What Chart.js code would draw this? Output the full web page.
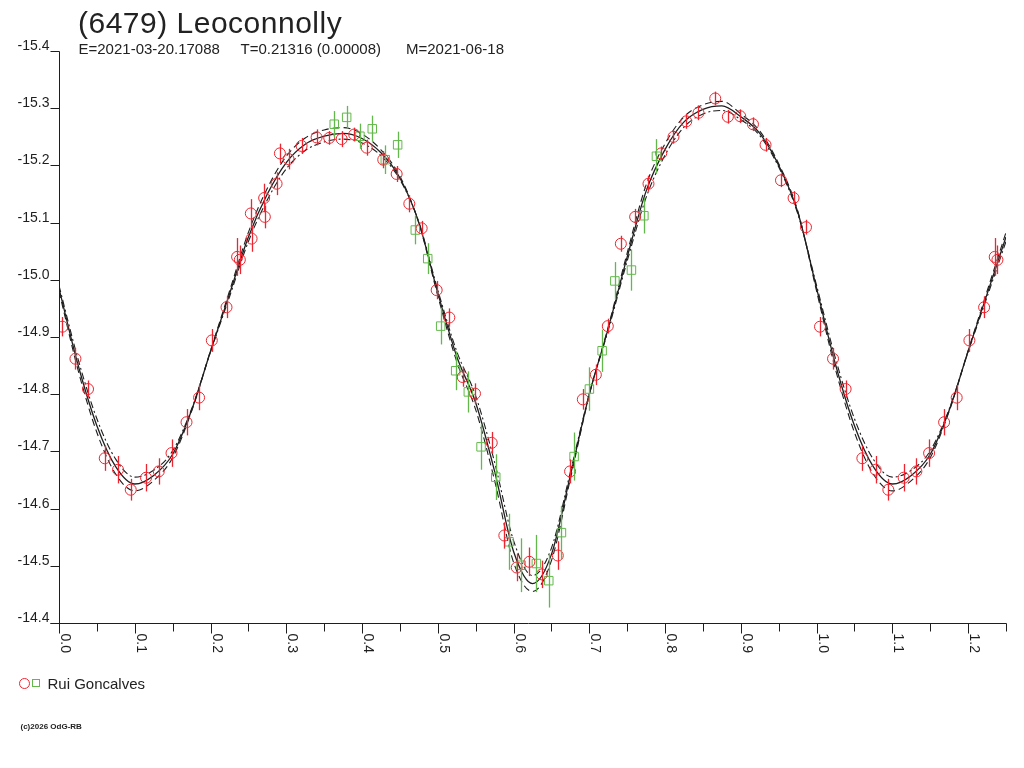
<!DOCTYPE html>
<html>
<head>
<meta charset="utf-8">
<title>(6479) Leoconnolly</title>
<script src="https://cdn.jsdelivr.net/npm/chart.js@4.4.1/dist/chart.umd.min.js"></script>
<style>
  html, body { margin: 0; padding: 0; background: #fff; }
  #lc { display: block; }
</style>
</head>
<body>
<canvas id="lc" width="1024" height="768"></canvas>
<script>
// Rui Goncalves, red circles (phase, reduced mag, error)
const phaseRed = [0.0045,0.0217,0.0383,0.0604,0.0779,0.0947,0.1149,0.1317,0.1485,0.1683,
  0.1849,0.2017,0.2211,0.2351,0.2387,0.2532,0.2542,0.2708,0.2717,0.2872,
  0.2916,0.3030,0.3202,0.3400,0.3567,0.3731,0.3897,0.4061,0.4280,0.4457,
  0.4624,0.4787,0.4985,0.5152,0.5329,0.5491,0.5712,0.5878,0.6042,0.6209,
  0.6373,0.6584,0.6746,0.6914,0.7086,0.7244,0.7416,0.7605,0.7781,0.7949,
  0.8111,0.8279,0.8441,0.8662,0.8829,0.8992,0.9160,0.9326,0.9530,0.9696,0.9860];
const magRed = [-14.918,-14.862,-14.809,-14.688,-14.668,-14.633,-14.654,-14.665,-14.697,-14.751,
  -14.794,-14.894,-14.952,-15.040,-15.035,-15.116,-15.072,-15.143,-15.110,-15.168,
  -15.221,-15.211,-15.234,-15.249,-15.248,-15.246,-15.254,-15.231,-15.210,-15.185,
  -15.133,-15.090,-14.982,-14.934,-14.830,-14.801,-14.715,-14.553,-14.497,-14.507,
  -14.485,-14.518,-14.665,-14.791,-14.834,-14.919,-15.063,-15.110,-15.168,-15.221,
  -15.250,-15.277,-15.292,-15.317,-15.285,-15.286,-15.272,-15.236,-15.174,-15.143,-15.092];
const errRed = [0.017,0.019,0.015,0.022,0.024,0.019,0.024,0.023,0.024,0.023,
  0.022,0.020,0.019,0.033,0.025,0.025,0.023,0.025,0.020,0.020,
  0.017,0.018,0.014,0.014,0.012,0.014,0.012,0.014,0.015,0.014,
  0.015,0.013,0.016,0.016,0.017,0.018,0.019,0.023,0.024,0.025,
  0.024,0.025,0.021,0.018,0.018,0.013,0.014,0.014,0.014,0.012,
  0.012,0.013,0.013,0.012,0.012,0.012,0.012,0.012,0.012,0.012,0.013];

// second session, green squares
const phaseGreen = [0.3633,0.3797,0.3972,0.4135,0.4307,0.4470,0.4703,0.4867,0.5038,0.5236,
  0.5403,0.5571,0.5765,0.5940,0.6099,0.6301,0.6465,0.6632,0.6799,0.7001,
  0.7169,0.7337,0.7556,0.7720,0.7886];
const magGreen = [-15.272,-15.284,-15.251,-15.264,-15.210,-15.236,-15.087,-15.037,-14.919,-14.841,
  -14.804,-14.708,-14.655,-14.542,-14.501,-14.504,-14.474,-14.558,-14.691,-14.809,
  -14.876,-14.998,-15.017,-15.112,-15.216];
const errGreen = [0.023,0.020,0.022,0.023,0.025,0.023,0.025,0.027,0.032,0.034,
  0.036,0.040,0.040,0.049,0.047,0.050,0.047,0.047,0.042,0.038,
  0.037,0.033,0.036,0.031,0.030];

// fit curves read every 0.025 in phase, 0.0 .. 1.0
const fitStep = 0.025;
const fitMag = [-14.985,-14.852,-14.745,-14.673,-14.643,-14.658,-14.695,-14.772,-14.875,-14.975,
  -15.075,-15.150,-15.205,-15.237,-15.251,-15.256,-15.247,-15.222,-15.178,-15.100,
  -14.977,-14.866,-14.785,-14.665,-14.525,-14.469,-14.520,-14.658,-14.800,-14.915,
  -15.040,-15.155,-15.228,-15.276,-15.298,-15.304,-15.285,-15.256,-15.200,-15.119,-14.985];
const fitMagHi = [-14.980,-14.843,-14.733,-14.660,-14.631,-14.649,-14.689,-14.770,-14.876,-14.980,
  -15.083,-15.160,-15.216,-15.248,-15.262,-15.266,-15.255,-15.227,-15.181,-15.099,
  -14.972,-14.857,-14.773,-14.649,-14.506,-14.455,-14.509,-14.652,-14.799,-14.918,
  -15.047,-15.166,-15.238,-15.285,-15.306,-15.312,-15.290,-15.260,-15.203,-15.121,-14.980];
const fitMagLo = [-14.990,-14.862,-14.757,-14.686,-14.655,-14.667,-14.701,-14.774,-14.874,-14.970,
  -15.067,-15.140,-15.194,-15.226,-15.241,-15.246,-15.239,-15.217,-15.175,-15.101,
  -14.982,-14.875,-14.797,-14.681,-14.544,-14.483,-14.531,-14.664,-14.801,-14.912,
  -15.033,-15.144,-15.218,-15.267,-15.290,-15.296,-15.280,-15.252,-15.197,-15.116,-14.990];

// axes
const xMin = 0, xMax = 1.25;
const yMin = -15.4, yMax = -14.4;
const xMinorTicks = [0.05,0.15,0.25,0.35,0.45,0.55,0.65,0.75,0.85,0.95,1.05,1.15,1.25];
const xMajorTicks = [0,0.1,0.2,0.3,0.4,0.5,0.6,0.7,0.8,0.9,1.0,1.1,1.2];
const xTickLabels = ['0.0','0.1','0.2','0.3','0.4','0.5','0.6','0.7','0.8','0.9','1.0','1.1','1.2'];
const yTicks = [-15.4,-15.3,-15.2,-15.1,-15.0,-14.9,-14.8,-14.7,-14.6,-14.5,-14.4];
const yTickLabels = ['-15.4','-15.3','-15.2','-15.1','-15.0','-14.9','-14.8','-14.7','-14.6','-14.5','-14.4'];

const title = '(6479) Leoconnolly';
const subTitle = ['E=2021-03-20.17088', 'T=0.21316 (0.00008)', 'M=2021-06-18'];
const observer = 'Rui Goncalves';
const credit = '(c)2026 OdG-RB';

const RED = '#ec2630';
const GREEN = '#62b84a';
const INK = '#1e1e1e';
const FONT = '"Liberation Sans", Arial, sans-serif';

// the plot repeats the first part of the cycle past phase 1.0
function toPoints(ph, mg, er) {
  const pts = [];
  for (let i = 0; i < ph.length; i++) {
    pts.push({x: ph[i], y: mg[i], e: er[i]});
    if (ph[i] + 1 <= xMax) pts.push({x: ph[i] + 1, y: mg[i], e: er[i]});
  }
  return pts;
}
function toCurve(mags) {
  const pts = mags.map((m, i) => ({x: i * fitStep, y: m}));
  for (let i = 1; i * fitStep <= xMax - 1 + 1e-9; i++) pts.push({x: 1 + i * fitStep, y: mags[i]});
  return pts;
}

const redPts = toPoints(phaseRed, magRed, errRed);
const greenPts = toPoints(phaseGreen, magGreen, errGreen);

const errorBars = {
  id: 'errorBars',
  afterDatasetsDraw(chart) {
    const {ctx, scales: {x, y}} = chart;
    ctx.save();
    ctx.lineWidth = 1.3;
    [[greenPts, GREEN], [redPts, RED]].forEach(([pts, col]) => {
      ctx.strokeStyle = col;
      pts.forEach(p => {
        const px = Math.round(x.getPixelForValue(p.x)) + 0.5;
        ctx.beginPath();
        ctx.moveTo(px, y.getPixelForValue(p.y - p.e));
        ctx.lineTo(px, y.getPixelForValue(p.y + p.e));
        ctx.stroke();
      });
    });
    ctx.restore();
  }
};

const frame = {
  id: 'frame',
  afterDraw(chart) {
    const {ctx, scales: {x, y}} = chart;
    const x0 = Math.round(x.getPixelForValue(xMin)) + 0.5;
    const x1 = Math.round(x.getPixelForValue(xMax)) + 0.5;
    const yTop = Math.round(y.getPixelForValue(yMin)) + 0.5;
    const yBot = Math.round(y.getPixelForValue(yMax)) + 0.5;
    ctx.save();
    ctx.strokeStyle = INK;
    ctx.fillStyle = INK;
    ctx.lineWidth = 1;

    // axes
    ctx.beginPath();
    ctx.moveTo(x0, yTop); ctx.lineTo(x0, yBot);
    ctx.moveTo(x0 - 9, yBot); ctx.lineTo(x1, yBot);
    ctx.stroke();

    // y ticks, label sits above its tick
    ctx.font = '14px ' + FONT;
    ctx.textAlign = 'right';
    ctx.textBaseline = 'alphabetic';
    yTicks.forEach((v, i) => {
      const py = Math.round(y.getPixelForValue(v)) + 0.5;
      ctx.beginPath(); ctx.moveTo(x0 - 9, py); ctx.lineTo(x0, py); ctx.stroke();
      ctx.fillText(yTickLabels[i], x0 - 10, py - 2);
    });

    // x ticks
    xMinorTicks.forEach(v => {
      const px = Math.round(x.getPixelForValue(v)) + 0.5;
      ctx.beginPath(); ctx.moveTo(px, yBot); ctx.lineTo(px, yBot + 8); ctx.stroke();
    });
    ctx.textAlign = 'left';
    xMajorTicks.forEach((v, i) => {
      const px = Math.round(x.getPixelForValue(v)) + 0.5;
      ctx.beginPath(); ctx.moveTo(px, yBot); ctx.lineTo(px, yBot + 10); ctx.stroke();
      ctx.save();
      ctx.translate(px + 1.5, yBot + 10);
      ctx.rotate(Math.PI / 2);
      ctx.fillText(xTickLabels[i], 0, 0);
      ctx.restore();
    });

    // title block
    ctx.fillStyle = '#222';
    ctx.font = '30px ' + FONT;
    ctx.letterSpacing = '0.5px';
    ctx.fillText(title, 78, 33);
    ctx.letterSpacing = '0px';
    ctx.font = '15px ' + FONT;
    ctx.fillText(subTitle[0], 78.5, 54);
    ctx.fillText(subTitle[1], 240.5, 54);
    ctx.fillText(subTitle[2], 406, 54);

    // legend
    ctx.lineWidth = 1;
    ctx.strokeStyle = RED;
    ctx.beginPath(); ctx.arc(24.5, 683.5, 5, 0, Math.PI * 2); ctx.stroke();
    ctx.strokeStyle = GREEN;
    ctx.strokeRect(32.5, 679.5, 7, 7);
    ctx.fillStyle = '#222';
    ctx.font = '15px ' + FONT;
    ctx.fillText(observer, 47.5, 688.5);

    ctx.font = 'bold 8px ' + FONT;
    ctx.fillText(credit, 20.5, 728.5);
    ctx.restore();
  }
};

new Chart(document.getElementById('lc'), {
  type: 'scatter',
  data: {
    datasets: [
      {
        label: observer,
        data: redPts,
        order: 0,
        pointStyle: 'circle',
        pointRadius: 5.5,
        borderColor: RED,
        backgroundColor: 'rgba(0,0,0,0)',
        borderWidth: 1
      },
      {
        label: observer + ' (2)',
        data: greenPts,
        order: 1,
        pointStyle: 'rect',
        pointRadius: 6,
        borderColor: GREEN,
        backgroundColor: 'rgba(0,0,0,0)',
        borderWidth: 1
      },
      {
        label: 'fit',
        data: toCurve(fitMag),
        order: 2,
        showLine: true,
        pointRadius: 0,
        borderColor: INK,
        borderWidth: 1.3,
        cubicInterpolationMode: 'monotone'
      },
      {
        label: 'fit +',
        data: toCurve(fitMagHi),
        order: 3,
        showLine: true,
        pointRadius: 0,
        borderColor: INK,
        borderWidth: 1.1,
        borderDash: [7, 4],
        cubicInterpolationMode: 'monotone'
      },
      {
        label: 'fit -',
        data: toCurve(fitMagLo),
        order: 4,
        showLine: true,
        pointRadius: 0,
        borderColor: INK,
        borderWidth: 1.1,
        borderDash: [7, 3, 2, 3],
        cubicInterpolationMode: 'monotone'
      }
    ]
  },
  options: {
    responsive: false,
    animation: false,
    devicePixelRatio: 1,
    layout: { padding: { left: 59, top: 51, right: 18, bottom: 145 } },
    scales: {
      x: { type: 'linear', min: xMin, max: xMax, display: false },
      y: { type: 'linear', min: yMin, max: yMax, reverse: true, display: false }
    },
    plugins: {
      legend: { display: false },
      tooltip: { enabled: false }
    }
  },
  plugins: [errorBars, frame]
});
</script>
</body>
</html>
